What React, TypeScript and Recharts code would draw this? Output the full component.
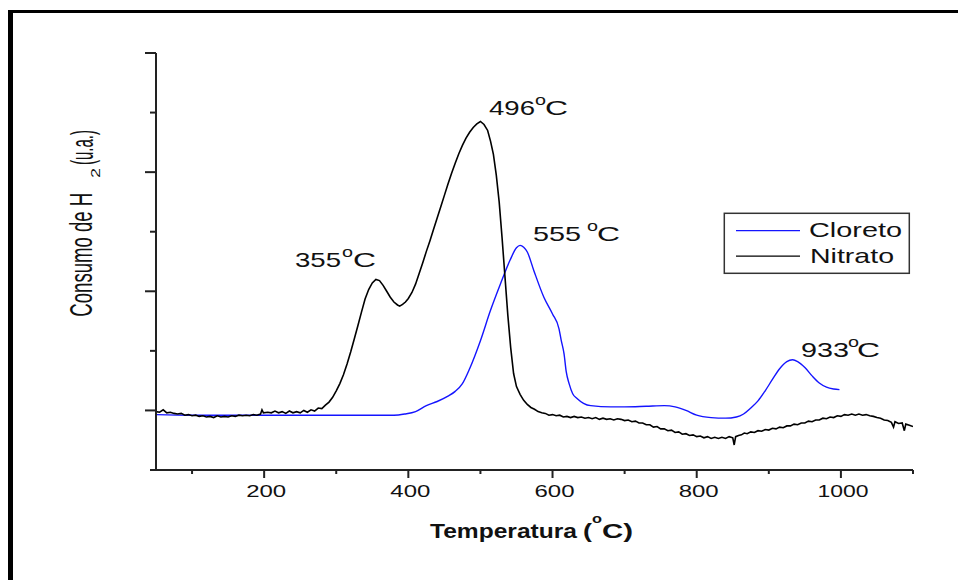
import { LineChart, Line, XAxis, YAxis, Legend, Customized } from "recharts";

const FONT = "'Liberation Sans', Arial, sans-serif";
const BLUE = "#1414ff";
const AXIS = "#222";

// [temperatura °C, consumo H2 (u.a.)]
const NITRATO: [number, number][] = [
  [50, -0.02], [55, -0.03], [60, 0.01], [65, -0.04], [70, -0.03], [75, -0.05],
  [80, -0.06], [85, -0.05], [90, -0.08], [95, -0.07], [100, -0.09], [105, -0.08],
  [110, -0.1], [115, -0.09], [120, -0.11], [125, -0.1], [130, -0.12], [135, -0.09],
  [140, -0.11], [145, -0.1], [150, -0.11], [155, -0.09], [160, -0.1], [165, -0.08],
  [170, -0.09], [175, -0.08], [180, -0.09], [185, -0.07], [190, -0.08], [195, -0.06],
  [197, 0.01], [199, -0.04], [205, -0.03], [210, -0.04], [215, -0.01], [220, -0.04],
  [225, -0.02], [230, -0.05], [235, -0.01], [240, -0.04], [245, -0.02], [250, -0.04],
  [255, 0.0], [260, -0.03], [265, 0.01], [270, -0.01], [275, 0.04], [280, 0.03],
  [285, 0.09], [290, 0.14], [295, 0.22], [300, 0.33], [305, 0.45], [310, 0.6],
  [315, 0.78], [320, 0.98], [325, 1.2], [330, 1.42], [335, 1.65], [340, 1.87],
  [345, 2.03], [350, 2.14], [355, 2.2], [360, 2.18], [365, 2.1], [370, 2.0],
  [375, 1.9], [380, 1.82], [385, 1.77], [388, 1.75], [392, 1.78], [396, 1.82],
  [400, 1.88], [405, 1.98], [410, 2.12], [415, 2.3], [420, 2.48], [425, 2.67],
  [430, 2.85], [435, 3.04], [440, 3.23], [445, 3.42], [450, 3.61], [455, 3.8],
  [460, 3.98], [465, 4.15], [470, 4.31], [475, 4.45], [480, 4.57], [485, 4.67],
  [490, 4.75], [495, 4.81], [500, 4.85], [505, 4.8], [510, 4.7], [514, 4.52],
  [518, 4.3], [522, 3.95], [526, 3.5], [530, 2.9], [534, 2.25], [538, 1.6],
  [542, 1.05], [546, 0.62], [550, 0.4], [555, 0.27], [560, 0.17], [565, 0.1],
  [570, 0.05], [575, 0.02], [580, -0.02], [585, -0.04], [590, -0.05], [595, -0.08],
  [600, -0.07], [605, -0.09], [610, -0.08], [615, -0.11], [620, -0.1], [625, -0.12],
  [630, -0.1], [635, -0.12], [640, -0.11], [645, -0.13], [650, -0.12], [655, -0.14],
  [660, -0.12], [665, -0.15], [670, -0.13], [675, -0.15], [680, -0.14], [685, -0.16],
  [690, -0.14], [695, -0.15], [700, -0.17], [705, -0.16], [710, -0.19], [715, -0.18],
  [720, -0.21], [725, -0.21], [730, -0.24], [735, -0.24], [740, -0.28], [745, -0.27],
  [750, -0.31], [755, -0.31], [760, -0.34], [765, -0.33], [770, -0.37], [775, -0.36],
  [780, -0.4], [785, -0.39], [790, -0.42], [795, -0.41], [800, -0.44], [805, -0.43],
  [810, -0.46], [815, -0.44], [820, -0.47], [825, -0.45], [830, -0.47], [835, -0.45],
  [840, -0.47], [845, -0.44], [850, -0.46], [852, -0.58], [854, -0.44], [858, -0.42],
  [862, -0.41], [866, -0.38], [870, -0.39], [875, -0.36], [880, -0.37], [885, -0.34],
  [890, -0.35], [895, -0.32], [900, -0.33], [905, -0.3], [910, -0.31], [915, -0.28],
  [920, -0.29], [925, -0.26], [930, -0.26], [935, -0.23], [940, -0.24], [945, -0.21],
  [950, -0.21], [955, -0.18], [960, -0.19], [965, -0.16], [970, -0.16], [975, -0.13],
  [980, -0.14], [985, -0.11], [990, -0.12], [995, -0.09], [1000, -0.1], [1005, -0.07],
  [1010, -0.08], [1015, -0.06], [1020, -0.08], [1025, -0.06], [1030, -0.08], [1035, -0.07],
  [1040, -0.09], [1045, -0.1], [1050, -0.12], [1055, -0.13], [1060, -0.16], [1065, -0.17],
  [1070, -0.2], [1073, -0.28], [1075, -0.19], [1080, -0.22], [1085, -0.21], [1088, -0.34],
  [1090, -0.23], [1095, -0.25], [1100, -0.27],
];

const CLORETO: [number, number][] = [
  [50, -0.07], [100, -0.08], [150, -0.08], [200, -0.08], [250, -0.08], [300, -0.08],
  [350, -0.08], [380, -0.08], [395, -0.06], [410, -0.02], [425, 0.08], [440, 0.15],
  [455, 0.24], [465, 0.32], [475, 0.45], [485, 0.7], [500, 1.17], [514, 1.68],
  [528, 2.13], [541, 2.52], [550, 2.73], [555, 2.77], [560, 2.74], [565, 2.66],
  [574, 2.35], [588, 1.9], [600, 1.62], [609, 1.37], [612, 1.18], [616, 0.95],
  [619, 0.65], [623, 0.45], [628, 0.28], [634, 0.2], [643, 0.12], [653, 0.08],
  [681, 0.06], [700, 0.06], [730, 0.07], [755, 0.08], [770, 0.06], [785, 0.0],
  [800, -0.08], [820, -0.12], [840, -0.13], [855, -0.11], [865, -0.06], [875, 0.04],
  [885, 0.16], [895, 0.33], [905, 0.52], [915, 0.7], [925, 0.82], [933, 0.85],
  [940, 0.82], [950, 0.72], [960, 0.58], [970, 0.46], [980, 0.39], [990, 0.36],
  [998, 0.35],
];

const X_TICKS = [100, 200, 300, 400, 500, 600, 700, 800, 900, 1000, 1100];
const X_MAJOR = [200, 400, 600, 800, 1000];
const Y_TICKS = [-1, 0, 1, 2, 3, 4, 5, 6];
const Y_MAJOR = [0, 2, 4, 6];

const PEAK_LABELS = ["355", "496", "555", "933"];
// posição dos rótulos dos picos (pixels)
const PEAK_POS = [
  { x: 295, w: 46, ox: 342, cx: 353, base: 267 },
  { x: 489, w: 46, ox: 535, cx: 545, base: 115 },
  { x: 533, w: 48, ox: 587, cx: 597, base: 241 },
  { x: 801, w: 48, ox: 848, cx: 857, base: 357 },
];

const nitratoData = NITRATO.map(([x, y]) => ({ x, y }));
const cloretoData = CLORETO.map(([x, y]) => ({ x, y }));

function Txt(props: any) {
  const { w, children, ...rest } = props;
  return (
    <text
      fontFamily={FONT}
      fill="#111"
      textLength={w}
      lengthAdjust="spacingAndGlyphs"
      {...rest}
    >
      {children}
    </text>
  );
}

function XTick(props: any) {
  const { x, y, payload } = props;
  const major = X_MAJOR.includes(payload.value);
  const label = String(payload.value);
  const w = label.length === 4 ? 51 : 40;
  return (
    <g>
      <line x1={x} x2={x} y1={y} y2={y + (major ? 8 : 4)} stroke={AXIS} strokeWidth={2} />
      {major && (
        <Txt x={x - w / 2 + 2} y={y + 27} fontSize={17} w={w}>
          {label}
        </Txt>
      )}
    </g>
  );
}

function YTick(props: any) {
  const { x, y, payload } = props;
  const major = Y_MAJOR.includes(payload.value);
  return <line x1={x - (major ? 11 : 6)} x2={x} y1={y} y2={y} stroke={AXIS} strokeWidth={2} />;
}

const LEGEND_W: Record<string, number> = { Cloreto: 93, Nitrato: 84 };

function LegendBox(props: any) {
  const items = props.payload || [];
  return (
    <svg width={188} height={64} style={{ display: "block" }}>
      <rect x={1.3} y={1.3} width={185} height={60} fill="#fff" stroke="#333" strokeWidth={1.5} />
      {items.map((it: any, i: number) => (
        <g key={it.value}>
          <line x1={13} x2={77} y1={18.7 + i * 25.5} y2={18.7 + i * 25.5} stroke={it.color} strokeWidth={1.3} />
          <Txt x={86 + i} y={25.3 + i * 26} fontSize={21} w={LEGEND_W[it.value] || 84}>
            {it.value}
          </Txt>
        </g>
      ))}
    </svg>
  );
}

function Extras() {
  return (
    <g>
      {/* moldura */}
      <line x1={8} x2={958} y1={11.5} y2={11.5} stroke="#000" strokeWidth={3} />
      <line x1={10.5} x2={10.5} y1={10} y2={580} stroke="#000" strokeWidth={5} />

      {/* rótulo do eixo Y */}
      <g transform="translate(92.3,316.7) rotate(-90)">
        <Txt x={0} y={0} fontSize={31} w={124}>Consumo de H</Txt>
      </g>
      <g transform="translate(100,178) rotate(-90)">
        <Txt x={0} y={0} fontSize={12} w={10}>2</Txt>
      </g>
      <g transform="translate(92.5,165) rotate(-90)">
        <Txt x={0} y={0} fontSize={31} w={35}>(u.a.)</Txt>
      </g>

      {/* rótulo do eixo X */}
      <Txt x={430} y={538} fontSize={21} fontWeight="bold" w={147}>Temperatura</Txt>
      <Txt x={583} y={538} fontSize={21} fontWeight="bold" w={9}>(</Txt>
      <Txt x={592} y={523} fontSize={13} fontWeight="bold" w={10}>o</Txt>
      <Txt x={602} y={538} fontSize={21} fontWeight="bold" w={31}>C)</Txt>

      {/* picos */}
      {PEAK_LABELS.map((t, i) => {
        const p = PEAK_POS[i];
        return (
          <g key={t}>
            <Txt x={p.x} y={p.base} fontSize={21} w={p.w}>{t}</Txt>
            <Txt x={p.ox} y={p.base - 10} fontSize={14} w={11}>o</Txt>
            <Txt x={p.cx} y={p.base} fontSize={21} w={23}>C</Txt>
          </g>
        );
      })}
    </g>
  );
}

export default function App() {
  return (
    <div style={{ position: "absolute", left: 0, top: 0, width: 958, height: 580, background: "#fff" }}>
      <LineChart
        width={958}
        height={580}
        margin={{ top: 53, right: 45, bottom: 80, left: 146 }}
      >
        <XAxis
          dataKey="x"
          type="number"
          domain={[50, 1100]}
          ticks={X_TICKS}
          interval={0}
          allowDataOverflow
          height={30}
          tickSize={0}
          tickMargin={0}
          tickLine={false}
          axisLine={{ stroke: AXIS, strokeWidth: 2 }}
          tick={<XTick />}
        />
        <YAxis
          type="number"
          domain={[-1, 6]}
          ticks={Y_TICKS}
          interval={0}
          allowDataOverflow
          width={10}
          tickSize={0}
          tickMargin={0}
          tickLine={false}
          axisLine={{ stroke: AXIS, strokeWidth: 2 }}
          tick={<YTick />}
        />
        <Line
          data={cloretoData}
          dataKey="y"
          name="Cloreto"
          type="monotone"
          stroke={BLUE}
          strokeWidth={1.4}
          dot={false}
          isAnimationActive={false}
        />
        <Line
          data={nitratoData}
          dataKey="y"
          name="Nitrato"
          type="linear"
          stroke="#000"
          strokeWidth={1.6}
          dot={false}
          isAnimationActive={false}
        />
        <Legend
          layout="vertical"
          align="center"
          verticalAlign="middle"
          content={<LegendBox />}
          wrapperStyle={{ left: 723, top: 212, width: 188, height: 64 }}
        />
        <Customized component={<Extras />} />
      </LineChart>
    </div>
  );
}
